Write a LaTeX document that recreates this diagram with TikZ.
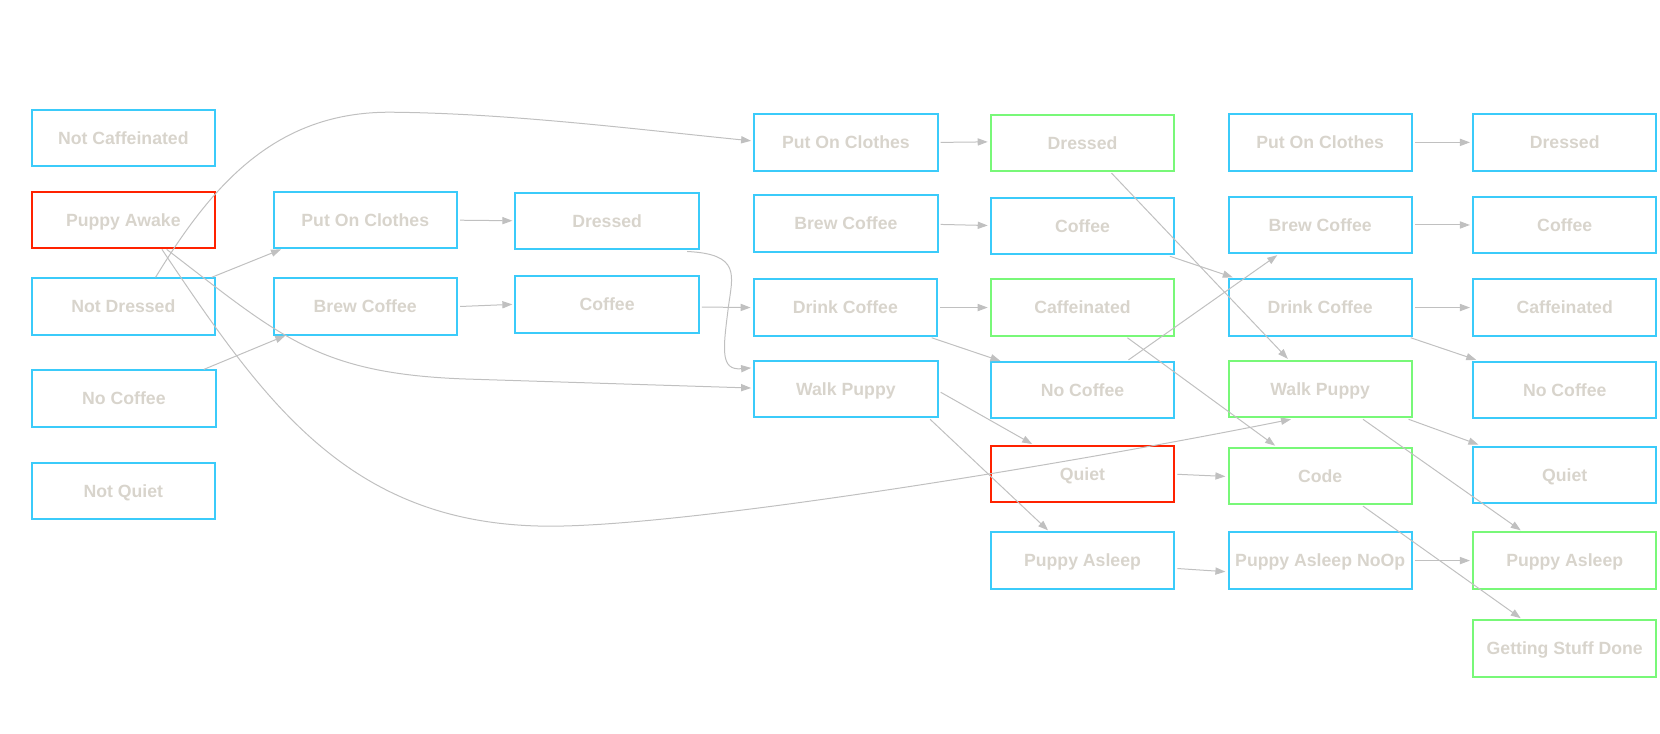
\documentclass[tikz,border=0pt]{standalone}
\usepackage{fontspec}
\setmainfont{Liberation Sans}
\usetikzlibrary{calc,arrows.meta}
\definecolor{txt}{RGB}{216,212,204}
\definecolor{bluebox}{RGB}{59,203,250}
\definecolor{greenbox}{RGB}{120,248,120}
\definecolor{redbox}{RGB}{255,34,0}
\definecolor{edge}{RGB}{192,192,192}
\begin{document}
\begin{tikzpicture}[x=0.53pt,y=-0.53pt,
  box/.style={draw=bluebox,line width=1pt,minimum width=91.8pt,minimum height=28.2pt,inner sep=0pt,
    text height=6.35pt,text depth=0pt,
    text=txt,font=\fontsize{8.85}{10}\selectfont\bfseries},
  gbox/.style={box,draw=greenbox},
  rbox/.style={box,draw=redbox},
  conn/.style={draw=edge,line width=0.5pt,-{Triangle[length=5pt,width=3.6pt]}}]
\useasboundingbox (0,0) rectangle (1568,692.4);
% column 1
\node[box]  (nc)   at (116.5,130.5) {Not Caffeinated};
\node[rbox] (pa)   at (116.5,208)   {Puppy Awake};
\node[box]  (nd)   at (116.5,289.5) {Not Dressed};
\node[box]  (ncf1) at (117,376.5)   {No Coffee};
\node[box]  (nq)   at (116.5,463.5) {Not Quiet};
% column 2
\node[box] (poc2) at (345,208)   {Put On Clothes};
\node[box] (bc2)  at (345,289.5) {Brew Coffee};
% column 3
\node[box] (dr3) at (573.5,208.5) {Dressed};
\node[box] (cf3) at (573.5,287.5) {Coffee};
% column 4
\node[box] (poc4) at (799,134.5) {Put On Clothes};
\node[box] (bc4)  at (799,211)   {Brew Coffee};
\node[box] (dc4)  at (798.5,290.5) {Drink Coffee};
\node[box] (wp4)  at (799,367.5) {Walk Puppy};
% column 5
\node[gbox] (dr5)  at (1022.5,135)   {Dressed};
\node[box]  (cf5)  at (1022.5,213.5) {Coffee};
\node[gbox] (caf5) at (1022.5,290.5) {Caffeinated};
\node[box]  (ncf5) at (1022.5,368.5) {No Coffee};
\node[rbox] (q5)   at (1022.5,448)   {Quiet};
\node[box]  (pas5) at (1022.5,529.5) {Puppy Asleep};
% column 6
\node[box]  (poc6)  at (1247,134.5) {Put On Clothes};
\node[box]  (bc6)   at (1247,212.5) {Brew Coffee};
\node[box]  (dc6)   at (1247,290.5) {Drink Coffee};
\node[gbox] (wp6)   at (1247,367.5) {Walk Puppy};
\node[gbox] (code6) at (1247,449.5) {Code};
\node[box]  (noop6) at (1247,529.5) {Puppy Asleep NoOp};
% column 7
\node[box]  (dr7)  at (1478,134.5) {Dressed};
\node[box]  (cf7)  at (1478,212.5) {Coffee};
\node[box]  (caf7) at (1478,290.5) {Caffeinated};
\node[box]  (ncf7) at (1478,368.5) {No Coffee};
\node[box]  (q7)   at (1478,448.5) {Quiet};
\node[gbox] (pas7) at (1478,529.5) {Puppy Asleep};
\node[gbox] (gsd7) at (1478,612.5) {Getting Stuff Done};
% connectors
\draw[conn] ($(nd.north west)+(118,0)$) .. controls (200,175) and (260,105) .. (370,106)
            .. controls (480,107) and (600,122) .. ($(poc4.west)+(-2,-1.5)$);
\draw[conn] ($(nd.north west)+(171,0)$) -- ($(poc2.south west)+(8,0)$);
\draw[conn] ($(ncf1.north west)+(163,0)$) -- ($(bc2.south west)+(12,0)$);
\draw[conn] ($(pa.south west)+(128.5,0)$) .. controls (265,318) and (300,353) .. (440,358)
            -- ($(wp4.west)+(-2,-1)$);
\draw[conn] ($(pa.south west)+(124,0)$) .. controls (250,380) and (330,497) .. (520,497)
            .. controls (650,497) and (1000,440) .. ($(wp6.south west)+(60,1)$);
\draw[conn] ($(poc2.east)+(2,0)$) -- ($(dr3.west)+(-2,0)$);
\draw[conn] ($(bc2.east)+(2,0)$) -- ($(cf3.west)+(-2,0)$);
\draw[conn] ($(dr3.south east)+(-12,1.5)$) .. controls (700,240) and (692,260) .. (688,290)
            .. controls (683,330) and (680,350) .. ($(wp4.west)+(-2,-20)$);
\draw[conn] ($(cf3.east)+(2,2.5)$) -- ($(dc4.west)+(-2,0)$);
\draw[conn] ($(poc4.east)+(2,0)$) -- ($(dr5.west)+(-2,-1)$);
\draw[conn] ($(bc4.east)+(2,1)$) -- ($(cf5.west)+(-2,-0.5)$);
\draw[conn] ($(dc4.east)+(2,0)$) -- ($(caf5.west)+(-2,0)$);
\draw[conn] ($(dc4.south east)+(-6,1)$) -- ($(ncf5.north west)+(10,0)$);
\draw[conn] ($(wp4.east)+(2,3)$) -- ($(q5.north west)+(40,-1)$);
\draw[conn] ($(wp4.south east)+(-8,1)$) -- ($(pas5.north west)+(55,-1)$);
\draw[conn] ($(dr5.south west)+(115,1)$) -- ($(wp6.north west)+(57,-1)$);
\draw[conn] ($(cf5.south east)+(-5,1)$) -- ($(dc6.north west)+(5,-1)$);
\draw[conn] ($(ncf5.north west)+(131,-1)$) -- ($(bc6.south west)+(47,1)$);
\draw[conn] ($(caf5.south west)+(130,1)$) -- ($(code6.north west)+(45,-1)$);
\draw[conn] ($(q5.east)+(2,0)$) -- ($(code6.west)+(-2,0.5)$);
\draw[conn] ($(pas5.east)+(2,7.5)$) -- ($(noop6.west)+(-2,10.5)$);
\draw[conn] ($(poc6.east)+(2,0)$) -- ($(dr7.west)+(-2,0)$);
\draw[conn] ($(bc6.east)+(2,0)$) -- ($(cf7.west)+(-2,0)$);
\draw[conn] ($(dc6.east)+(2,0)$) -- ($(caf7.west)+(-2,0)$);
\draw[conn] ($(dc6.south east)+(-2,1)$) -- ($(ncf7.north west)+(4,-1)$);
\draw[conn] ($(wp6.south east)+(-4,1)$) -- ($(q7.north west)+(6,-1)$);
\draw[conn] ($(wp6.south west)+(128,1)$) -- ($(pas7.north west)+(46,-1)$);
\draw[conn] ($(code6.south west)+(128,1)$) -- ($(gsd7.north west)+(46,-1)$);
\draw[conn] ($(noop6.east)+(2,0)$) -- ($(pas7.west)+(-2,0)$);
\end{tikzpicture}
\end{document}
